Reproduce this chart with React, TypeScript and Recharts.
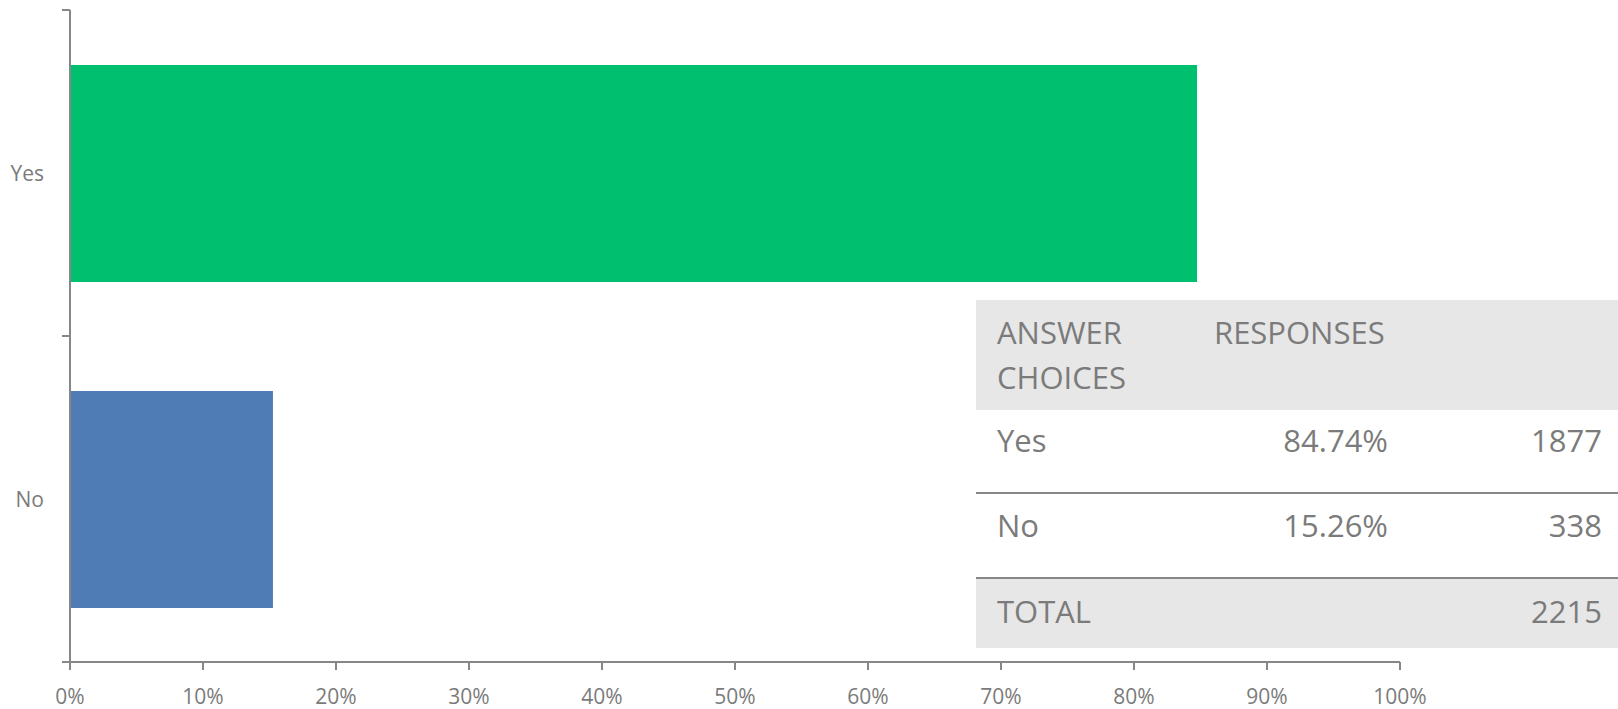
import { BarChart, Bar, XAxis, YAxis, Cell } from "recharts";

const answers = ["Yes", "No"];
const percents = [84.74, 15.26];
const counts = [1877, 338];
const total = 2215;
const barColors = ["#00bf6f", "#507cb6"];
const xTicks = [0, 10, 20, 30, 40, 50, 60, 70, 80, 90, 100];

const W = 1618;
const H = 709;
const margin = { top: 10, right: 218, bottom: 0, left: 0 };
const X_AXIS_H = 47;
const Y_AXIS_W = 70;
const AXIS = "#878787";
const TEXT = "#7b7b7b";

const data = answers.map((a, i) => ({ answer: a, pct: percents[i] }));

// Excel style: label in the middle of the band, tick marks on the band edges
function AnswerTick(props: any) {
  const { x, y, payload, index } = props;
  const band = (H - margin.top - margin.bottom - X_AXIS_H) / answers.length;
  const ax = margin.left + Y_AXIS_W;
  const edgeTop = y - band / 2;
  const edgeBottom = y + band / 2;
  return (
    <g>
      <line x1={ax - 8} x2={ax} y1={edgeTop} y2={edgeTop} stroke={AXIS} strokeWidth={2} />
      {index === answers.length - 1 && (
        <line x1={ax - 8} x2={ax} y1={edgeBottom} y2={edgeBottom} stroke={AXIS} strokeWidth={2} />
      )}
      <text x={x} y={y} textAnchor="end" dominantBaseline="central" fill={TEXT} fontSize={21}>
        {payload.value}
      </text>
    </g>
  );
}

function SummaryTable() {
  const cell = { position: "absolute" as const, top: 0, lineHeight: "45px" };
  const rows = [
    { label: "Yes", pct: `${percents[0].toFixed(2)}%`, n: String(counts[0]), h: 84, pad: 8 },
    { label: "No", pct: `${percents[1].toFixed(2)}%`, n: String(counts[1]), h: 85, pad: 9 },
  ];
  return (
    <div
      style={{
        position: "absolute",
        left: 976,
        top: 300,
        width: 642,
        color: TEXT,
        fontSize: 31,
        fontFamily: '"Open Sans", sans-serif',
      }}
    >
      <div style={{ position: "relative", height: 110, background: "#e7e7e7" }}>
        <div style={{ ...cell, top: 10, left: 21 }}>
          ANSWER
          <br />
          CHOICES
        </div>
        <div style={{ ...cell, top: 10, left: 238 }}>RESPONSES</div>
      </div>
      {rows.map((r) => (
        <div
          key={r.label}
          style={{ position: "relative", height: r.h, borderBottom: `2px solid ${AXIS}`, boxSizing: "border-box" }}
        >
          <div style={{ ...cell, top: r.pad, left: 21 }}>{r.label}</div>
          <div style={{ ...cell, top: r.pad, right: 642 - 412 }}>{r.pct}</div>
          <div style={{ ...cell, top: r.pad, right: 642 - 626 }}>{r.n}</div>
        </div>
      ))}
      <div style={{ position: "relative", height: 69, background: "#e7e7e7" }}>
        <div style={{ ...cell, top: 10, left: 21 }}>TOTAL</div>
        <div style={{ ...cell, top: 10, right: 642 - 626 }}>{total}</div>
      </div>
    </div>
  );
}

export default function App() {
  return (
    <div
      style={{
        position: "absolute",
        left: 0,
        top: 0,
        width: W,
        height: H,
        background: "#fff",
        fontFamily: '"Open Sans", sans-serif',
      }}
    >
      <BarChart width={W} height={H} data={data} layout="vertical" margin={margin}>
        <XAxis
          type="number"
          domain={[0, 100]}
          ticks={xTicks}
          tickFormatter={(v) => `${v}%`}
          height={X_AXIS_H}
          tickSize={8}
          tickMargin={19}
          axisLine={{ stroke: AXIS, strokeWidth: 2 }}
          tickLine={{ stroke: AXIS, strokeWidth: 2 }}
          tick={{ fill: TEXT, fontSize: 21 }}
          interval={0}
        />
        <YAxis
          type="category"
          dataKey="answer"
          width={Y_AXIS_W}
          axisLine={{ stroke: AXIS, strokeWidth: 2 }}
          tickLine={false}
          tickSize={8}
          tickMargin={18}
          tick={<AnswerTick />}
        />
        <Bar dataKey="pct" barSize={217} isAnimationActive={false}>
          {data.map((d, i) => (
            <Cell key={d.answer} fill={barColors[i]} />
          ))}
        </Bar>
      </BarChart>
      <SummaryTable />
    </div>
  );
}
